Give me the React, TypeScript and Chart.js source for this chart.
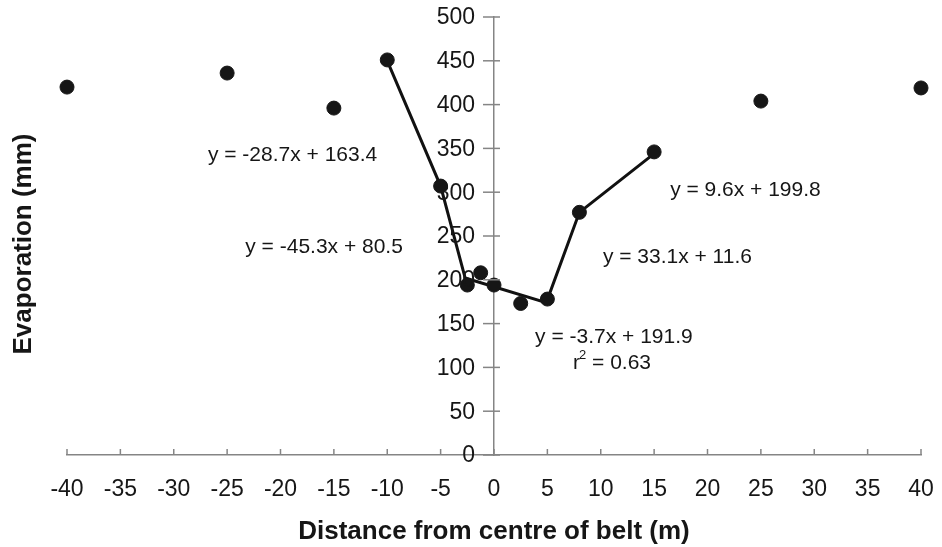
import React, { useEffect, useRef } from "react";
import { Chart, registerables } from "chart.js";

Chart.register(...registerables);

// Measured evaporation at each distance from the belt centre
const distanceM = [-40, -25, -15, -10, -5, -2.5, -1.25, 0, 2.5, 5, 8, 15, 25, 40];
const evaporationMm = [420, 436, 396, 451, 307, 194, 208, 194, 173, 178, 277, 346, 404, 419];

// Piecewise fitted line (break points between the regression segments)
const fitDistance = [-10, -5, -2.7, 4.9, 8, 15];
const fitEvaporation = [450, 307, 202, 174, 277, 344];

// Axis ranges
const xRange = [-40, 40];
const xStep = 5;
const yRange = [0, 500];
const yStep = 50;

// Regression equations written next to each segment
const equationText = [
  "y = -28.7x + 163.4",
  "y = -45.3x + 80.5",
  "y = -3.7x + 191.9",
  "y = 33.1x + 11.6",
  "y = 9.6x + 199.8",
];
const rSquaredText = "0.63";

const xTitle = "Distance from centre of belt (m)";
const yTitle = "Evaporation (mm)";

const FONT = "'Liberation Sans', Arial, sans-serif";
const INK = "#161616";
const AXIS = "#858585";

// Where each equation label sits, in axis units (left edge, vertical middle)
const equationAnchor = [
  { x: -26.8, y: 342 },
  { x: -23.3, y: 237 },
  { x: 3.85, y: 135 },
  { x: 10.2, y: 226 },
  { x: 16.5, y: 302 },
];
const rSquaredAnchor = { x: 7.4, y: 105 };

const decorations = {
  id: "decorations",
  afterDraw(chart: any) {
    const { ctx, scales, chartArea } = chart;
    const xs = scales.x;
    const ys = scales.y;
    const x0 = xs.getPixelForValue(0);
    const y0 = ys.getPixelForValue(0);

    ctx.save();
    // small tick marks on both axes
    ctx.strokeStyle = AXIS;
    ctx.lineWidth = 1.5;
    xs.ticks.forEach((t: any) => {
      const px = xs.getPixelForValue(t.value);
      ctx.beginPath();
      ctx.moveTo(px, y0);
      ctx.lineTo(px, y0 - 6);
      ctx.stroke();
    });
    ys.ticks.forEach((t: any) => {
      const py = ys.getPixelForValue(t.value);
      ctx.beginPath();
      ctx.moveTo(x0 - 11, py);
      ctx.lineTo(x0 + 6, py);
      ctx.stroke();
    });

    // value labels of the vertical axis, set off to the left of the line
    ctx.fillStyle = INK;
    ctx.font = `23px ${FONT}`;
    ctx.textAlign = "right";
    ctx.textBaseline = "middle";
    ys.ticks.forEach((t: any) => {
      ctx.fillText(t.label, x0 - 19, ys.getPixelForValue(t.value) + 1);
    });

    // equation labels
    ctx.textAlign = "left";
    ctx.font = `21px ${FONT}`;
    equationText.forEach((txt, i) => {
      const a = equationAnchor[i];
      ctx.fillText(txt, xs.getPixelForValue(a.x), ys.getPixelForValue(a.y));
    });

    // r² label with a raised 2
    let rx = xs.getPixelForValue(rSquaredAnchor.x);
    const ry = ys.getPixelForValue(rSquaredAnchor.y);
    ctx.fillText("r", rx, ry);
    rx += ctx.measureText("r").width - 1;
    ctx.font = `13px ${FONT}`;
    ctx.fillText("2", rx, ry - 8);
    rx += ctx.measureText("2").width;
    ctx.font = `21px ${FONT}`;
    ctx.fillText(` = ${rSquaredText}`, rx, ry);

    // axis titles
    ctx.font = `bold 26px ${FONT}`;
    ctx.textAlign = "center";
    ctx.fillText(xTitle, (chartArea.left + chartArea.right) / 2, 532);
    ctx.translate(24, 244);
    ctx.rotate(-Math.PI / 2);
    ctx.fillText(yTitle, 0, 0);
    ctx.restore();
  },
};

export default function App() {
  const canvasRef = useRef<HTMLCanvasElement | null>(null);

  useEffect(() => {
    if (!canvasRef.current) return;
    const chart = new Chart(canvasRef.current, {
      type: "scatter",
      data: {
        datasets: [
          {
            label: "Measured",
            data: distanceM.map((x, i) => ({ x, y: evaporationMm[i] })),
            backgroundColor: INK,
            borderColor: INK,
            pointRadius: 7,
            pointHoverRadius: 7,
            showLine: false,
            clip: false,
          },
          {
            label: "Fit",
            data: fitDistance.map((x, i) => ({ x, y: fitEvaporation[i] })),
            borderColor: "#111111",
            borderWidth: 3,
            pointRadius: 0,
            showLine: true,
            tension: 0,
            clip: false,
          },
        ],
      },
      options: {
        animation: false,
        responsive: false,
        layout: { padding: { left: 67, right: 21, top: 17, bottom: 92 } },
        plugins: {
          legend: { display: false },
          tooltip: { enabled: false },
          title: { display: false },
        },
        scales: {
          x: {
            type: "linear",
            min: xRange[0],
            max: xRange[1],
            position: { y: 0 } as any,
            grid: { display: false, drawTicks: true, tickLength: 21 },
            border: { display: true, color: AXIS, width: 1.5 },
            ticks: {
              stepSize: xStep,
              padding: 0,
              color: INK,
              font: { family: FONT, size: 23 },
              maxRotation: 0,
              autoSkip: false,
            },
          },
          y: {
            type: "linear",
            min: yRange[0],
            max: yRange[1],
            position: { x: 0 } as any,
            grid: { display: false, drawTicks: false },
            border: { display: true, color: AXIS, width: 1.5 },
            ticks: {
              stepSize: yStep,
              display: false,
              autoSkip: false,
            },
          },
        },
      },
      plugins: [decorations],
    });
    return () => chart.destroy();
  }, []);

  return (
    <div style={{ position: "absolute", left: 0, top: 0, width: 942, height: 547, background: "#fff" }}>
      <canvas ref={canvasRef} width={942} height={547} style={{ display: "block" }} />
    </div>
  );
}
